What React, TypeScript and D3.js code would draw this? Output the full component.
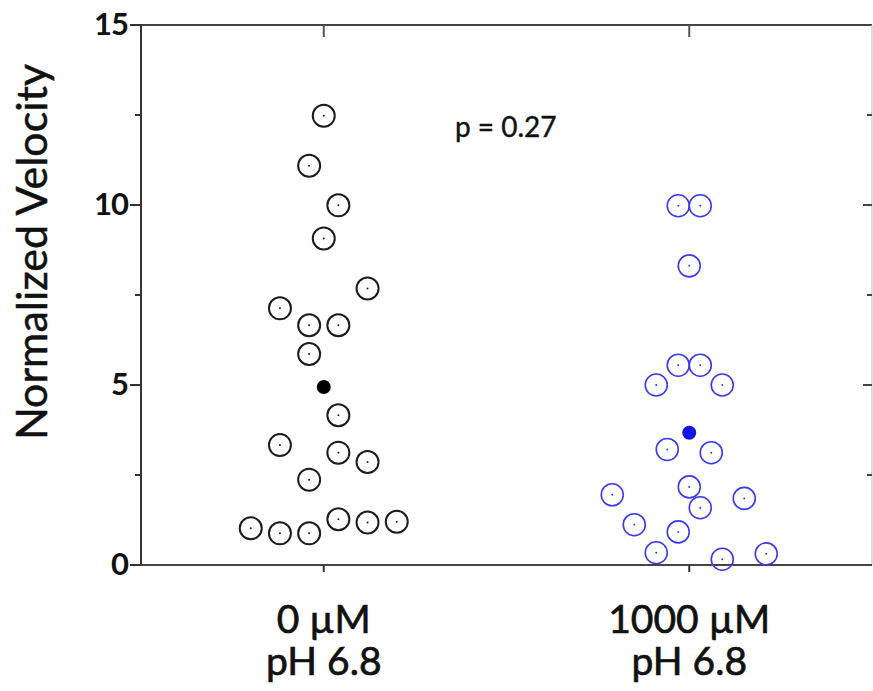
import React from 'react';
import * as d3 from 'd3';

// groups on the x axis
const categories = ['0 µM', '1000 µM'];
const subLabels = ['pH 6.8', 'pH 6.8'];

// normalized velocity
const velocity0 = [12.48, 11.09, 9.99, 9.07, 7.68, 7.13, 6.66, 6.66, 5.86, 4.16, 3.33, 3.12, 2.86, 2.37, 1.02, 0.88, 0.88, 1.27, 1.18, 1.2];
// beeswarm column of each point (in slots)
const slots0 = [0, -1, 1, 0, 3, -3, -1, 1, -1, 1, -3, 1, 3, -1, -5, -3, -1, 1, 3, 5];

const velocity1000 = [9.98, 9.98, 8.31, 5.55, 5.55, 5.0, 5.0, 3.21, 3.12, 1.95, 2.17, 1.85, 1.59, 1.12, 0.92, 0.34, 0.16, 0.31];
const slots1000 = [-1, 1, 0, -1, 1, -3, 3, -2, 2, -7, 0, 5, 1, -5, -1, -3, 3, 7];

const yTicks = [0, 5, 10, 15];
const yMinorTicks = [2.5, 7.5, 12.5];
const pText = 'p = 0.27';

const W = 873;
const H = 691;
const left = 141;
const right = 872;
const top = 25;
const bottom = 565;

const font = 'Lato, "Open Sans", sans-serif';

export default function App() {
  const x = d3.scalePoint<string>().domain(categories).range([left, right]).padding(0.5);
  const y = d3.scaleLinear().domain([0, 15]).range([bottom, top]);

  const groups = [
    { cat: categories[0], vals: velocity0, slots: slots0, slotW: 14.6, color: '#1c1c1c', fill: '#000', sw: 2 },
    { cat: categories[1], vals: velocity1000, slots: slots1000, slotW: 11, color: '#3a3af5', fill: '#1414e6', sw: 1.6 },
  ];

  return (
    <svg width={W} height={H} style={{ position: 'absolute', left: 0, top: 0, background: '#fff' }}>
      {/* frame */}
      <line x1={left} x2={right} y1={top} y2={top} stroke="#444" strokeWidth={2} />
      <line x1={right} x2={right} y1={top} y2={bottom} stroke="#bbb" strokeWidth={1} />
      <line x1={left} x2={left} y1={top - 1} y2={bottom + 1} stroke="#333" strokeWidth={2} />
      <line x1={left} x2={right} y1={bottom} y2={bottom} stroke="#444" strokeWidth={2.2} />

      {/* y ticks */}
      {yTicks.map(t => (
        <g key={t}>
          <line x1={left - 11} x2={left} y1={y(t)} y2={y(t)} stroke="#333" strokeWidth={2} />
          {t > 0 && t < 15 && <line x1={right - 9} x2={right} y1={y(t)} y2={y(t)} stroke="#444" strokeWidth={2} />}
          <text x={left - 13} y={y(t)} dy="0.33em" textAnchor="end" fontFamily={font} fontWeight={700}
            fontSize={31} fill="#111" letterSpacing={-1}>{t}</text>
        </g>
      ))}
      {yMinorTicks.map(t => (
        <g key={t}>
          <line x1={left - 6} x2={left} y1={y(t)} y2={y(t)} stroke="#333" strokeWidth={2} />
          <line x1={right - 5} x2={right} y1={y(t)} y2={y(t)} stroke="#444" strokeWidth={2} />
        </g>
      ))}

      {/* x ticks and labels */}
      {categories.map((c, i) => (
        <g key={c}>
          <line x1={x(c)} x2={x(c)} y1={bottom} y2={bottom + 7} stroke="#333" strokeWidth={2} />
          <line x1={x(c)} x2={x(c)} y1={top} y2={top + 12} stroke="#555" strokeWidth={2} />
          <text x={x(c)} y={633} textAnchor="middle" fontFamily={font} fontSize={39} fill="#111"
            stroke="#111" strokeWidth={0.7}>{c}</text>
          <text x={x(c)} y={675} textAnchor="middle" fontFamily={font} fontSize={39} fill="#111"
            stroke="#111" strokeWidth={0.7}>{subLabels[i]}</text>
        </g>
      ))}

      {/* y axis title */}
      <text transform={`translate(47,252) rotate(-90)`} textAnchor="middle" fontFamily={font} fontSize={43}
        fill="#111" stroke="#111" strokeWidth={0.5}>
        Normalized Velocity
      </text>

      <text x={455} y={137} fontFamily={font} fontSize={28} fill="#111" stroke="#111" strokeWidth={0.4}>{pText}</text>

      {/* points */}
      {groups.map(g => {
        const cx0 = x(g.cat) as number;
        const mean = d3.mean(g.vals) as number;
        return (
          <g key={g.cat}>
            {g.vals.map((v, i) => (
              <g key={i}>
                <circle cx={cx0 + g.slots[i] * g.slotW} cy={y(v)} r={11} fill="none" stroke={g.color} strokeWidth={g.sw} />
                <circle cx={cx0 + g.slots[i] * g.slotW} cy={y(v)} r={1} fill={g.color} />
              </g>
            ))}
            <circle cx={cx0} cy={y(mean)} r={7} fill={g.fill} />
          </g>
        );
      })}
    </svg>
  );
}
